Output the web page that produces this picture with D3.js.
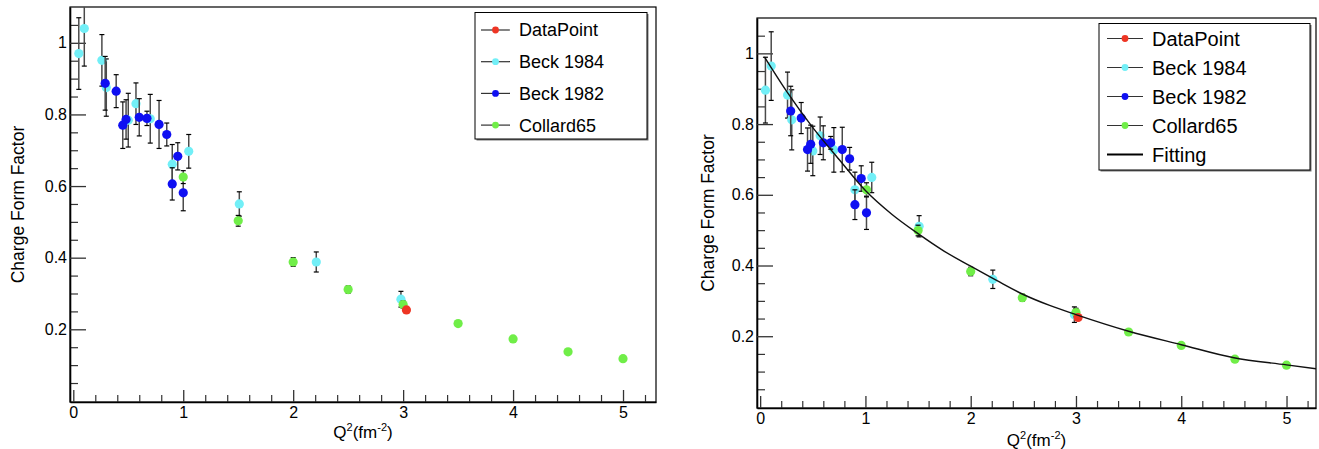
<!DOCTYPE html>
<html>
<head>
<meta charset="utf-8">
<script src="https://cdn.jsdelivr.net/npm/d3@7"></script>
<style>
  body { margin: 0; background: #fff; }
  svg { display: block; font-family: "Liberation Sans", Arial, sans-serif; }
</style>
</head>
<body>
<svg id="chart" width="1319" height="449"></svg>
<script>
// [Q2, form factor, error]
const dataPointLeft = [[3.03, 0.254, 0]];
const beck1984Left = [
  [0.05, 0.970, 0.100], [0.10, 1.040, 0.105], [0.26, 0.951, 0.072], [0.30, 0.875, 0.080],
  [0.50, 0.784, 0.075], [0.57, 0.830, 0.058], [0.70, 0.788, 0.068], [0.90, 0.661, 0.055],
  [1.05, 0.697, 0.047], [1.51, 0.550, 0.034], [2.21, 0.388, 0.028], [2.98, 0.284, 0.022]
];
const beck1982Left = [
  [0.29, 0.887, 0.075], [0.39, 0.865, 0.046], [0.45, 0.770, 0.065], [0.48, 0.786, 0.055],
  [0.60, 0.792, 0.052], [0.67, 0.789, 0.020], [0.78, 0.772, 0.067], [0.85, 0.744, 0.032],
  [0.90, 0.606, 0.045], [0.95, 0.683, 0.038], [1.00, 0.581, 0.050]
];
const collard65Left = [
  [1.00, 0.625, 0.018], [1.50, 0.503, 0.015], [2.00, 0.388, 0.012], [2.50, 0.311, 0.010],
  [3.00, 0.269, 0.010], [3.50, 0.216, 0.004], [4.00, 0.173, 0.005], [4.50, 0.137, 0.003],
  [5.00, 0.118, 0.003]
];

const dataPointRight = [[3.02, 0.253, 0]];
const beck1984Right = [
  [0.05, 0.896, 0.093], [0.105, 0.964, 0.097], [0.26, 0.882, 0.065], [0.30, 0.812, 0.085],
  [0.50, 0.724, 0.070], [0.57, 0.767, 0.053], [0.70, 0.727, 0.063], [0.90, 0.614, 0.050],
  [1.06, 0.649, 0.043], [1.51, 0.511, 0.030], [2.21, 0.361, 0.026], [2.985, 0.261, 0.022]
];
const beck1982Right = [
  [0.29, 0.837, 0.070], [0.39, 0.817, 0.044], [0.45, 0.728, 0.061], [0.48, 0.743, 0.054],
  [0.60, 0.747, 0.048], [0.67, 0.747, 0.018], [0.78, 0.728, 0.063], [0.85, 0.702, 0.032],
  [0.90, 0.572, 0.042], [0.96, 0.646, 0.036], [1.01, 0.549, 0.047]
];
const collard65Right = [
  [1.01, 0.614, 0.020], [1.50, 0.499, 0.015], [2.00, 0.383, 0.012], [2.49, 0.309, 0.010],
  [3.00, 0.267, 0.012], [3.50, 0.212, 0.004], [4.00, 0.174, 0.004], [4.51, 0.135, 0.003],
  [5.00, 0.118, 0.003]
];

const fitQ2 = [0.04, 0.25, 0.5, 0.75, 1.0, 1.25, 1.5, 1.75, 2.0, 2.25, 2.5, 2.75, 3.0, 3.5, 4.0, 4.5, 5.0, 5.28];
const fitFF = [0.99, 0.893, 0.790, 0.700, 0.612, 0.545, 0.490, 0.440, 0.398, 0.357, 0.318, 0.287, 0.261, 0.214, 0.176, 0.139, 0.119, 0.108];

const seriesNames = ["DataPoint", "Beck 1984", "Beck 1982", "Collard65"];
const seriesColors = ["#ee3524", "#72eff7", "#0f0ff2", "#70ee48"];
const xMajorTicks = [0, 1, 2, 3, 4, 5];
const yMajorTicks = [0.2, 0.4, 0.6, 0.8, 1];

const svg = d3.select("#chart");

function drawPanel(cfg) {
  const x = d3.scaleLinear().domain([-0.03, cfg.xMax]).range([cfg.left, cfg.right]);
  const y = d3.scaleLinear().domain([-0.003, 1.1]).range([cfg.bottom, cfg.top]);
  const g = svg.append("g");

  const clipId = "clip" + cfg.id;
  svg.append("clipPath").attr("id", clipId)
    .append("rect")
    .attr("x", cfg.left).attr("y", cfg.top)
    .attr("width", cfg.right - cfg.left).attr("height", cfg.bottom - cfg.top);

  // frame
  g.append("rect")
    .attr("x", cfg.left).attr("y", cfg.top)
    .attr("width", cfg.right - cfg.left).attr("height", cfg.bottom - cfg.top)
    .attr("fill", "none").attr("stroke", "#000").attr("stroke-width", 1.2);

  // minor ticks
  const xMinor = d3.range(0, cfg.xMax, 0.2).filter(v => Math.abs(v - Math.round(v)) > 1e-6);
  const yMinor = d3.range(0.05, 1.1, 0.05).filter(v => Math.abs(v * 5 - Math.round(v * 5)) > 1e-6);

  g.append("g").attr("transform", `translate(0,${cfg.bottom})`)
    .call(d3.axisBottom(x).tickValues(xMinor).tickSize(-7).tickSizeOuter(0).tickFormat(""))
    .call(a => a.select(".domain").remove())
    .call(a => a.selectAll("line").attr("stroke", "#333").attr("stroke-width", 1.2));
  g.append("g").attr("transform", `translate(${cfg.left},0)`)
    .call(d3.axisLeft(y).tickValues(yMinor).tickSize(-8).tickSizeOuter(0).tickFormat(""))
    .call(a => a.select(".domain").remove())
    .call(a => a.selectAll("line").attr("stroke", "#333").attr("stroke-width", 1.2));

  // major ticks + labels
  const xAxis = g.append("g").attr("transform", `translate(0,${cfg.bottom})`)
    .call(d3.axisBottom(x).tickValues(xMajorTicks).tickSize(-12).tickSizeOuter(0).tickPadding(5).tickFormat(d3.format("d")));
  const yAxis = g.append("g").attr("transform", `translate(${cfg.left},0)`)
    .call(d3.axisLeft(y).tickValues(yMajorTicks).tickSize(-16).tickSizeOuter(0).tickPadding(3).tickFormat(d => d === 1 ? "1" : d3.format(".1f")(d)));
  [xAxis, yAxis].forEach(a => {
    a.selectAll("line").attr("stroke", "#333").attr("stroke-width", 1.3);
    a.select(".domain").attr("stroke", "#000").attr("stroke-width", 1.6);
    a.selectAll("text").attr("fill", "#000").style("font-size", "16px");
  });

  // axis titles
  const xt = g.append("text")
    .attr("x", (cfg.left + cfg.right) / 2).attr("y", cfg.xTitleY)
    .attr("text-anchor", "middle").style("font-size", "17px");
  xt.append("tspan").text("Q");
  xt.append("tspan").text("2").attr("dy", -7).style("font-size", "11px");
  xt.append("tspan").text("(fm").attr("dy", 7);
  xt.append("tspan").text("-2").attr("dy", -7).style("font-size", "11px");
  xt.append("tspan").text(")").attr("dy", 7);

  g.append("text")
    .attr("transform", `translate(${cfg.yTitleX},${(cfg.top + cfg.bottom) / 2}) rotate(-90)`)
    .attr("text-anchor", "middle").style("font-size", "17.5px")
    .text("Charge Form Factor");

  // data: draw order cyan, blue, green, red
  const plot = g.append("g").attr("clip-path", `url(#${clipId})`);
  const order = [1, 2, 3, 0];
  order.forEach(i => {
    const pts = cfg.series[i];
    const withErr = pts.filter(d => d[2] > 0);
    plot.selectAll(null).data(withErr).enter().append("line")
      .attr("x1", d => x(d[0])).attr("x2", d => x(d[0]))
      .attr("y1", d => y(d[1] - d[2])).attr("y2", d => y(d[1] + d[2]))
      .attr("stroke", "#4a4a4a").attr("stroke-width", 1.5);
    [-1, 1].forEach(s => {
      plot.selectAll(null).data(withErr).enter().append("line")
        .attr("x1", d => x(d[0]) - 2.5).attr("x2", d => x(d[0]) + 2.5)
        .attr("y1", d => y(d[1] + s * d[2])).attr("y2", d => y(d[1] + s * d[2]))
        .attr("stroke", "#000").attr("stroke-width", 1.2);
    });
    plot.selectAll(null).data(pts).enter().append("circle")
      .attr("cx", d => x(d[0])).attr("cy", d => y(d[1]))
      .attr("r", 4.6).attr("fill", seriesColors[i]);
  });

  if (cfg.fit) {
    const fitData = fitQ2.map((q, i) => [q, fitFF[i]]);
    plot.append("path")
      .datum(fitData)
      .attr("d", d3.line().x(d => x(d[0])).y(d => y(d[1])).curve(d3.curveMonotoneX))
      .attr("fill", "none").attr("stroke", "#111").attr("stroke-width", 1.4);
  }

  // legend
  const L = cfg.legend;
  const names = cfg.fit ? seriesNames.concat(["Fitting"]) : seriesNames;
  const lg = g.append("g");
  lg.append("rect")
    .attr("x", L.x + 1.5).attr("y", L.y + 1.5).attr("width", L.w).attr("height", L.h)
    .attr("fill", "#777");
  lg.append("rect")
    .attr("x", L.x).attr("y", L.y).attr("width", L.w).attr("height", L.h)
    .attr("fill", "#fff").attr("stroke", "#000").attr("stroke-width", 1);
  names.forEach((name, i) => {
    const cy = L.y + L.first + i * L.step;
    const isFit = name === "Fitting";
    lg.append("line")
      .attr("x1", L.x + L.lineX0).attr("x2", L.x + L.lineX1)
      .attr("y1", cy).attr("y2", cy)
      .attr("stroke", isFit ? "#000" : "#333").attr("stroke-width", isFit ? 2.2 : 1.2);
    if (!isFit) {
      lg.append("circle")
        .attr("cx", L.x + (L.lineX0 + L.lineX1) / 2).attr("cy", cy)
        .attr("r", 3.4).attr("fill", seriesColors[i]);
    }
    lg.append("text")
      .attr("x", L.x + L.textX).attr("y", cy)
      .attr("dy", "0.36em").style("font-size", L.font + "px")
      .text(name);
  });
}

drawPanel({
  id: "L", left: 70, right: 656, top: 7, bottom: 402, xMax: 5.3,
  xTitleY: 438, yTitleX: 24,
  series: [dataPointLeft, beck1984Left, beck1982Left, collard65Left],
  fit: false,
  legend: { x: 475, y: 12.5, w: 172, h: 126.5, first: 17.5, step: 31.7, lineX0: 6, lineX1: 35, textX: 44, font: 18 }
});

drawPanel({
  id: "R", left: 757, right: 1316, top: 18, bottom: 408, xMax: 5.28,
  xTitleY: 446, yTitleX: 714,
  series: [dataPointRight, beck1984Right, beck1982Right, collard65Right],
  fit: true,
  legend: { x: 1099, y: 23.5, w: 211, h: 146.5, first: 15, step: 29, lineX0: 8, lineX1: 44, textX: 53, font: 20 }
});
</script>
</body>
</html>
